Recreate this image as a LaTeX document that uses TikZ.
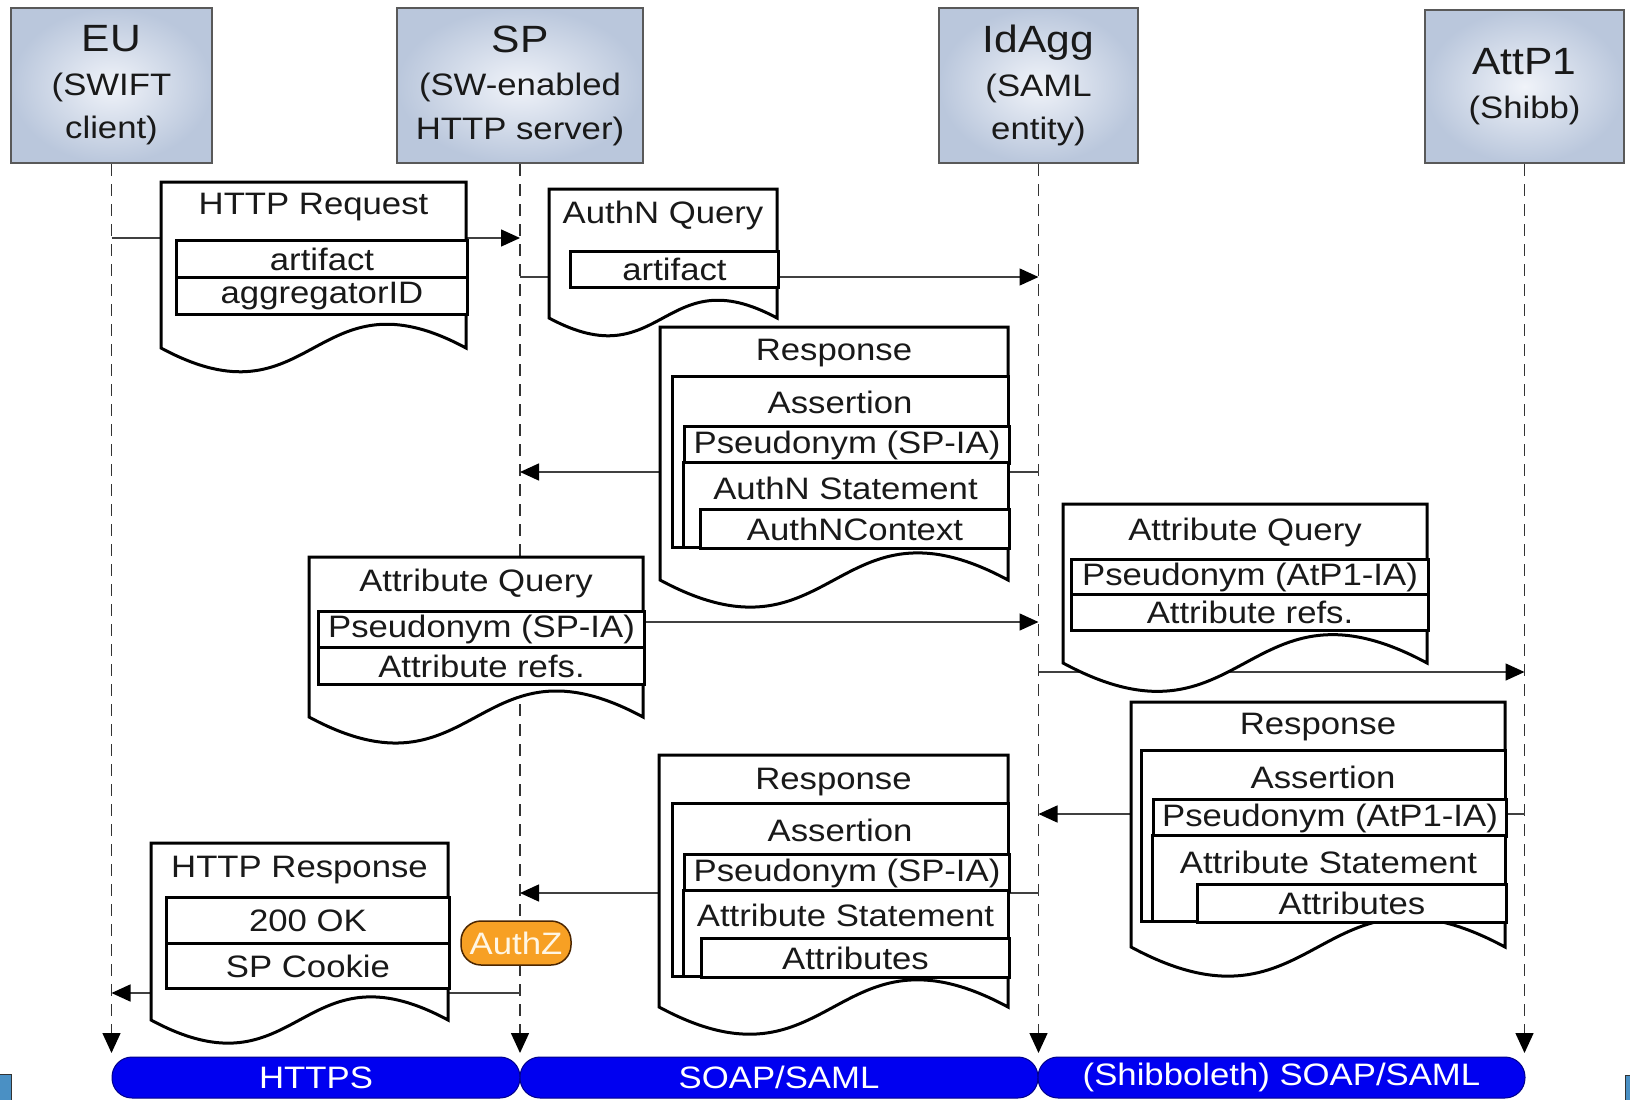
\documentclass[tikz,border=0pt]{standalone}
\usepackage{fontspec}
\setmainfont{Liberation Sans}[FakeStretch=1.12]
\usetikzlibrary{arrows.meta}
\usetikzlibrary{shapes}

\definecolor{hdrout}{RGB}{186,199,220}
\definecolor{hdrin}{RGB}{240,243,249}
\definecolor{chanblue}{RGB}{0,0,240}
\definecolor{authzorange}{RGB}{247,160,36}
\definecolor{sqblue}{RGB}{74,144,196}

\tikzset{
  actor/.style={rectangle,draw=black!65,line width=2pt,shading=radial,inner color=hdrin,outer color=hdrout,
    align=center,text=black!90,font=\fontsize{31}{43.5}\selectfont},
  lifeline/.style={line width=1.5pt,draw=black!80,dash pattern=on 12pt off 8pt,
    -{Triangle[length=20pt,width=18pt,color=black]}},
  msg/.style={line width=1.5pt,draw=black!75,-{Triangle[length=19pt,width=17pt,color=black]}},
  doc/.style={draw=black,fill=white,line width=3pt,line join=miter},
  box/.style={draw=black,fill=white,line width=3pt},
  field/.style={rectangle,draw=black,fill=white,line width=3pt,inner sep=0pt,anchor=north west,
    text=black!90,font=\fontsize{31}{36}\selectfont},
  txt/.style={inner sep=0pt,text=black!90,font=\fontsize{31}{36}\selectfont},
  chan/.style={rectangle,rounded corners=20pt,fill=chanblue,draw=blue!55!black,line width=1pt,
    minimum height=41pt,text=white,font=\fontsize{31}{36}\selectfont},
  authz/.style={rectangle,rounded corners=20pt,fill=authzorange,draw=black!70!orange,line width=1.5pt,
    minimum width=110pt,minimum height=44pt,inner sep=0pt,text={rgb,255:red,255;green,246;blue,228},
    font=\fontsize{31}{36}\selectfont}
}

% message document: x0, y0, x1, y of the bottom corners
\newcommand{\msgdoc}[4]{%
  \pgfmathsetmacro{\dmid}{(#1+#3)/2}%
  \pgfmathsetmacro{\dbend}{0.27*(#3-#1)}%
  \filldraw[doc] (#1,#2) -- (#3,#2) -- (#3,#4) .. controls (\dmid,#4-\dbend) and (\dmid,#4+\dbend) .. (#1,#4) -- cycle;}

\begin{document}
\begin{tikzpicture}[x=1pt,y=-1pt]
\useasboundingbox[fill=white] (0,0) rectangle (1630,1100);

\path (111.5,85.5) node[actor,minimum width=201pt,minimum height=155pt] (EU) {{\fontsize{38}{43.5}\selectfont EU}\\(SWIFT\\client)}
(520,85.5) node[actor,minimum width=246pt,minimum height=155pt] (SP) {{\fontsize{38}{43.5}\selectfont SP}\\(SW-enabled\\HTTP server)}
(1038.5,85.5) node[actor,minimum width=199pt,minimum height=155pt] (IdAgg) {{\fontsize{38}{43.5}\selectfont IdAgg}\\(SAML\\entity)}
(1524.5,86.5) node[actor,minimum width=199pt,minimum height=153pt] (AttP1) {{\fontsize{38}{43.5}\selectfont AttP1}\\(Shibb)};

\foreach \who in {EU,SP,IdAgg,AttP1}
  \draw[lifeline] (\who.south) -- (\who.south |- 0,1053);

\draw[msg] (EU |- 0,238) -- (SP |- 0,238);
\draw[msg] (SP |- 0,277) -- (IdAgg |- 0,277);
\draw[msg] (IdAgg |- 0,472) -- (SP |- 0,472);
\draw[msg] (SP |- 0,622) -- (IdAgg |- 0,622);
\draw[msg] (IdAgg |- 0,672) -- (AttP1 |- 0,672);
\draw[msg] (AttP1 |- 0,814) -- (IdAgg |- 0,814);
\draw[msg] (IdAgg |- 0,893) -- (SP |- 0,893);
\draw[msg] (SP |- 0,993) -- (EU |- 0,993);

% HTTP Request
\msgdoc{161}{182}{466}{348}
\node[txt] (req) at (313.5,207) {HTTP Request};
\node[field,minimum width=291pt,minimum height=37pt] (reqart) at (175,239) {artifact};
\node[field,minimum width=291pt,minimum height=37pt] (reqagg) at (175,276) {aggregatorID};

% AuthN Query
\msgdoc{549}{189}{777}{318}
\node[txt] (authnq) at (663,215) {AuthN Query};
\node[field,minimum width=208pt,minimum height=36pt] (authnqart) at (569,250) {artifact};

% Response to SP
\msgdoc{660}{327}{1008}{580}
\node[txt] (resp1) at (834,353) {Response};
\draw[box] (672,376) rectangle (1008,547);
\node[txt] (resp1as) at (840,402) {Assertion};
\node[field,minimum width=325pt,minimum height=37pt] (resp1ps) at (683,425) {Pseudonym (SP-IA)};
\draw[box] (683,462) rectangle (1008,547);
\node[txt] (resp1st) at (845.5,488) {AuthN Statement};
\node[field,minimum width=309pt,minimum height=39pt] (resp1ctx) at (699,508) {AuthNContext};

% Attribute Query from SP
\msgdoc{309}{557}{643}{717}
\node[txt] (aq1) at (476,583) {Attribute Query};
\node[field,minimum width=326pt,minimum height=36pt] (aq1ps) at (317,610) {Pseudonym (SP-IA)};
\node[field,minimum width=326pt,minimum height=37pt] (aq1ref) at (317,646) {Attribute refs.};

% Attribute Query to AttP1
\msgdoc{1063}{504}{1427}{663}
\node[txt] (aq2) at (1245,532) {Attribute Query};
\node[field,minimum width=357pt,minimum height=35pt] (aq2ps) at (1070,558) {Pseudonym (AtP1-IA)};
\node[field,minimum width=357pt,minimum height=36pt] (aq2ref) at (1070,593) {Attribute refs.};

% Response from AttP1
\msgdoc{1131}{702}{1505}{947}
\node[txt] (resp2) at (1318,727) {Response};
\draw[box] (1141,750) rectangle (1505,921);
\node[txt] (resp2as) at (1323,777) {Assertion};
\node[field,minimum width=353pt,minimum height=37pt] (resp2ps) at (1152,798) {Pseudonym (AtP1-IA)};
\draw[box] (1152,835) rectangle (1505,921);
\node[txt] (resp2st) at (1328.5,862) {Attribute Statement};
\node[field,minimum width=309pt,minimum height=38pt] (resp2attr) at (1196,883) {Attributes};

% Response to SP
\msgdoc{659}{755}{1008}{1007}
\node[txt] (resp3) at (833.5,782) {Response};
\draw[box] (672,803) rectangle (1008,976);
\node[txt] (resp3as) at (840,830) {Assertion};
\node[field,minimum width=325pt,minimum height=37pt] (resp3ps) at (683,853) {Pseudonym (SP-IA)};
\draw[box] (683,890) rectangle (1008,976);
\node[txt] (resp3st) at (845.5,915) {Attribute Statement};
\node[field,minimum width=308pt,minimum height=39pt] (resp3attr) at (700,937) {Attributes};

% HTTP Response
\msgdoc{151}{843}{448}{1020}
\node[txt] (hresp) at (299.5,870) {HTTP Response};
\node[field,minimum width=283pt,minimum height=46pt] (hrespok) at (165,896) {200 OK};
\node[field,minimum width=283pt,minimum height=45pt] (hrespck) at (165,942) {SP Cookie};

\node[authz] (authz) at (516,943) {AuthZ};

\path (316,1077.5) node[chan,minimum width=408pt] (https) {HTTPS}
(779,1077.5) node[chan,minimum width=518pt] (soap) {SOAP/SAML}
(1281.5,1077.5) node[chan,minimum width=487pt] (shib) {(Shibboleth) SOAP/SAML};

\filldraw[fill=sqblue,draw=black!80,line width=1pt] (-1,1074) rectangle (11,1101);
\filldraw[fill=sqblue,draw=black!80,line width=1pt] (1625,1075) rectangle (1631,1101);
\end{tikzpicture}
\end{document}
